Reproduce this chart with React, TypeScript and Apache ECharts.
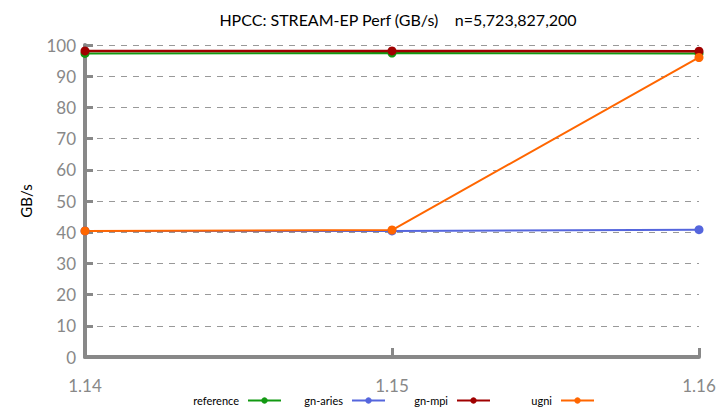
import React, { useEffect, useRef } from "react";
import * as echarts from "echarts";

const categories = ["1.14", "1.15", "1.16"];
const seriesNames = ["reference", "gn-aries", "gn-mpi", "ugni"];
const referenceValues = [97.3, 97.4, 97.3];
const gnAriesValues = [40.4, 40.4, 40.8];
const gnMpiValues = [98.1, 98.1, 98.0];
const ugniValues = [40.4, 40.7, 96.0];
const seriesColors = ["#129912", "#5566dd", "#a00000", "#ff6600"];
const yTicks = [0, 10, 20, 30, 40, 50, 60, 70, 80, 90, 100];
const legendRightEdges = [282, 386, 491, 595];

const FONT = "Lato";

export default function App() {
  const ref = useRef<HTMLDivElement>(null);
  useEffect(() => {
    if (!ref.current) return;
    const chart = echarts.init(ref.current, null, { renderer: "svg" });
    const data = [referenceValues, gnAriesValues, gnMpiValues, ugniValues];
    chart.setOption({
      animation: false,
      title: {
        text: "HPCC: STREAM-EP Perf (GB/s)    n=5,723,827,200",
        left: 393,
        top: 6,
        textAlign: "center",
        textStyle: { fontFamily: FONT, fontSize: 16, fontWeight: "normal", color: "#000" },
      },
      legend: seriesNames.map((name, i) => ({
        data: [name],
        right: 721 - legendRightEdges[i],
        top: 395,
        align: "right",
        padding: 0,
        itemWidth: 33,
        itemHeight: 8,
        textStyle: { fontFamily: FONT, fontSize: 11, color: "#000", padding: [0, 4, 0, 0] },
      })),
      grid: { left: 85, right: 22, top: 45, bottom: 52, containLabel: false },
      xAxis: {
        type: "category",
        data: categories,
        boundaryGap: false,
        axisLine: { lineStyle: { color: "#888", width: 4 } },
        axisTick: { inside: true, length: 9, lineStyle: { color: "#888", width: 3 } },
        axisLabel: { fontFamily: FONT, fontSize: 17, color: "#888", margin: 20 },
        splitLine: { show: false },
      },
      yAxis: {
        type: "value",
        min: 0,
        max: 100,
        interval: 10,
        name: "GB/s",
        nameLocation: "middle",
        nameGap: 52,
        nameTextStyle: { fontFamily: FONT, fontSize: 15, color: "#000" },
        axisLine: { show: true, lineStyle: { color: "#888", width: 4 } },
        axisTick: { show: true, inside: true, length: 8, lineStyle: { color: "#888", width: 3 } },
        axisLabel: {
          fontFamily: FONT,
          fontSize: 17,
          color: "#888",
          margin: 9,
          padding: [6, 0, 0, 0],
          formatter: (v: number) => (yTicks.includes(v) ? String(v) : ""),
        },
        splitLine: { show: true, lineStyle: { color: "#999", type: [6, 6], width: 1 } },
      },
      series: seriesNames.map((name, i) => ({
        name,
        type: "line",
        data: data[i],
        symbol: "circle",
        symbolSize: 9,
        showSymbol: true,
        itemStyle: { color: seriesColors[i] },
        lineStyle: { color: seriesColors[i], width: i === 2 ? 2.5 : 2 },
      })),
    });
    return () => chart.dispose();
  }, []);
  return <div ref={ref} style={{ width: 721, height: 409, position: "absolute", left: 0, top: 0 }} />;
}
